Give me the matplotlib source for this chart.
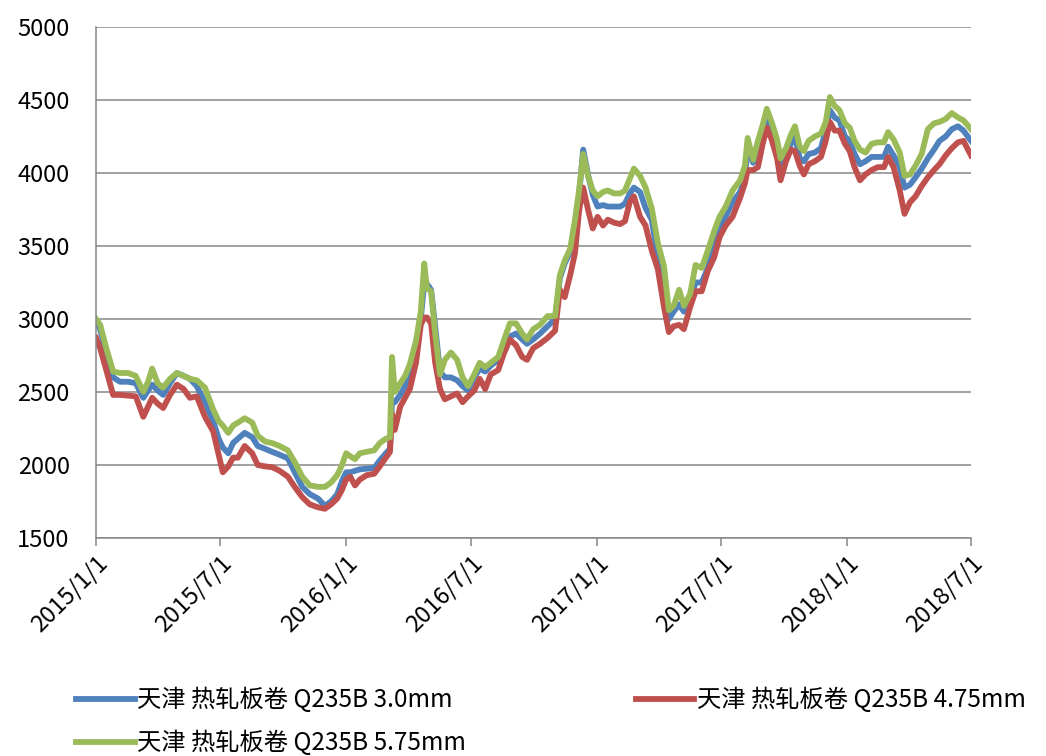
import matplotlib
matplotlib.use("Agg")
import matplotlib.pyplot as plt
import matplotlib.dates as mdates
import pandas as pd

plt.rcParams['font.family'] = ['Noto Sans CJK SC', 'DejaVu Sans']

dates = [
    "2015-01-01", "2015-01-07", "2015-01-16", "2015-01-26", "2015-02-05", "2015-02-17", "2015-02-28",
    "2015-03-11", "2015-03-18", "2015-03-24", "2015-04-01", "2015-04-09", "2015-04-19", "2015-04-29",
    "2015-05-09", "2015-05-18", "2015-05-28", "2015-06-09", "2015-06-21", "2015-06-29", "2015-07-05",
    "2015-07-13", "2015-07-20", "2015-07-27", "2015-08-06", "2015-08-17", "2015-08-25", "2015-09-05",
    "2015-09-15", "2015-09-26", "2015-10-08", "2015-10-18", "2015-10-29", "2015-11-09", "2015-11-21",
    "2015-12-01", "2015-12-10", "2015-12-19", "2015-12-26", "2016-01-01", "2016-01-07", "2016-01-14",
    "2016-01-21", "2016-01-31", "2016-02-11", "2016-02-19", "2016-02-28", "2016-03-05", "2016-03-08",
    "2016-03-12", "2016-03-20", "2016-03-27", "2016-04-03", "2016-04-12", "2016-04-19", "2016-04-24",
    "2016-04-28", "2016-05-04", "2016-05-10", "2016-05-17", "2016-05-24", "2016-06-02", "2016-06-11",
    "2016-06-19", "2016-06-27", "2016-07-06", "2016-07-14", "2016-07-22", "2016-07-30", "2016-08-10",
    "2016-08-18", "2016-08-27", "2016-09-05", "2016-09-14", "2016-09-21", "2016-09-30", "2016-10-10",
    "2016-10-21", "2016-11-01", "2016-11-08", "2016-11-15", "2016-11-23", "2016-11-30", "2016-12-06",
    "2016-12-12", "2016-12-19", "2016-12-26", "2017-01-02", "2017-01-10", "2017-01-17", "2017-01-26",
    "2017-02-04", "2017-02-11", "2017-02-18", "2017-02-24", "2017-03-05", "2017-03-13", "2017-03-22",
    "2017-03-31", "2017-04-09", "2017-04-16", "2017-04-23", "2017-05-01", "2017-05-08", "2017-05-17",
    "2017-05-25", "2017-06-03", "2017-06-12", "2017-06-21", "2017-06-29", "2017-07-08", "2017-07-18",
    "2017-07-29", "2017-08-05", "2017-08-09", "2017-08-17", "2017-08-24", "2017-08-31", "2017-09-06",
    "2017-09-13", "2017-09-21", "2017-09-26", "2017-10-04", "2017-10-11", "2017-10-17", "2017-10-24",
    "2017-10-30", "2017-11-06", "2017-11-15", "2017-11-24", "2017-12-01", "2017-12-07", "2017-12-14",
    "2017-12-21", "2017-12-29", "2018-01-05", "2018-01-12", "2018-01-20", "2018-01-28", "2018-02-06",
    "2018-02-15", "2018-02-24", "2018-03-02", "2018-03-10", "2018-03-19", "2018-03-26", "2018-04-03",
    "2018-04-11", "2018-04-20", "2018-04-29", "2018-05-08", "2018-05-16", "2018-05-25", "2018-06-03",
    "2018-06-12", "2018-06-20", "2018-07-01",
]

# 天津 热轧板卷 Q235B 3.0mm
price_30 = [
    2990, 2930, 2760, 2600, 2570, 2570, 2560, 2460, 2510, 2550, 2510, 2480, 2560, 2630,
    2610, 2590, 2540, 2430, 2300, 2180, 2120, 2080, 2150, 2180, 2220, 2190, 2130, 2110,
    2090, 2070, 2045, 1950, 1850, 1800, 1770, 1720, 1750, 1800, 1890, 1950, 1950, 1960,
    1970, 1975, 1980, 2030, 2080, 2110, 2440, 2430, 2480, 2540, 2620, 2790, 3000, 3250,
    3240, 3200, 2950, 2640, 2600, 2600, 2580, 2540, 2510, 2600, 2660, 2640, 2680, 2720,
    2820, 2880, 2900, 2860, 2830, 2860, 2900, 2950, 3000, 3280, 3380, 3460, 3650, 3850,
    4160, 3990, 3850, 3770, 3780, 3770, 3770, 3770, 3790, 3860, 3900, 3870, 3760, 3680,
    3420, 3180, 3000, 3050, 3100, 3050, 3120, 3250, 3250, 3350, 3510, 3610, 3700, 3800,
    3870, 3960, 4180, 4070, 4160, 4270, 4380, 4300, 4180, 4060, 4120, 4200, 4250, 4100,
    4080, 4130, 4140, 4170, 4290, 4430, 4380, 4360, 4250, 4220, 4130, 4060, 4080, 4110,
    4110, 4110, 4180, 4120, 4040, 3900, 3920, 3970, 4030, 4100, 4160, 4220, 4250, 4300,
    4320, 4290, 4220,
]

# 天津 热轧板卷 Q235B 4.75mm
price_475 = [
    2870, 2800, 2650, 2480, 2480, 2475, 2470, 2330, 2400, 2460, 2420, 2390, 2480, 2550,
    2520, 2460, 2470, 2330, 2230, 2070, 1950, 1990, 2050, 2050, 2130, 2080, 2000, 1990,
    1985, 1960, 1920, 1850, 1780, 1730, 1710, 1700, 1730, 1770, 1830, 1900, 1920, 1860,
    1900, 1930, 1940, 1990, 2050, 2090, 2350, 2240, 2400, 2460, 2520, 2700, 2960, 3010,
    3010, 2970, 2700, 2520, 2450, 2470, 2490, 2430, 2470, 2510, 2590, 2520, 2620, 2650,
    2760, 2860, 2820, 2740, 2720, 2800, 2830, 2870, 2920, 3200, 3150, 3300, 3450, 3740,
    3900, 3750, 3620, 3700, 3640, 3680, 3660, 3650, 3670, 3800, 3840, 3700, 3640, 3470,
    3340, 3080, 2910, 2950, 2960, 2930, 3080, 3190, 3190, 3330, 3420, 3560, 3640, 3700,
    3830, 3930, 4020, 4020, 4040, 4200, 4310, 4230, 4100, 3950, 4080, 4160, 4150, 4050,
    3990, 4060, 4080, 4110, 4220, 4350, 4290, 4290, 4200, 4150, 4040, 3950, 3990, 4020,
    4040, 4040, 4110, 4040, 3880, 3720, 3800, 3840, 3910, 3970, 4020, 4060, 4120, 4170,
    4210, 4220, 4120,
]

# 天津 热轧板卷 Q235B 5.75mm
price_575 = [
    3000, 2960, 2800, 2640, 2630, 2630, 2610, 2500, 2570, 2660, 2560, 2530, 2590, 2630,
    2610, 2590, 2580, 2530, 2380, 2300, 2270, 2220, 2270, 2290, 2320, 2290, 2200, 2160,
    2150, 2130, 2100, 2020, 1920, 1860, 1850, 1850, 1880, 1930, 2000, 2080, 2060, 2040,
    2080, 2090, 2100, 2150, 2180, 2190, 2740, 2500, 2560, 2610, 2690, 2850, 3050, 3380,
    3210, 3190, 2900, 2620, 2720, 2770, 2720, 2600, 2540, 2620, 2700, 2670, 2700, 2740,
    2850, 2970, 2970, 2900, 2860, 2930, 2960, 3020, 3020, 3300, 3400, 3480, 3680, 3880,
    4130, 3980, 3880, 3840, 3870, 3880, 3860, 3860, 3880, 3960, 4030, 3980, 3900, 3760,
    3520, 3360, 3060, 3090, 3200, 3090, 3170, 3370, 3350, 3470, 3600, 3700, 3770, 3880,
    3950, 4050, 4240, 4090, 4220, 4330, 4440, 4350, 4230, 4100, 4170, 4260, 4320, 4180,
    4150, 4220, 4250, 4270, 4350, 4520, 4460, 4430, 4340, 4310, 4220, 4160, 4140, 4200,
    4210, 4210, 4280, 4230, 4140, 3980, 3990, 4050, 4130, 4300, 4340, 4350, 4370, 4410,
    4380, 4360, 4300,
]

labels = [
    "天津 热轧板卷 Q235B 3.0mm",
    "天津 热轧板卷 Q235B 4.75mm",
    "天津 热轧板卷 Q235B 5.75mm",
]
colors = ["#4F81BD", "#C0504D", "#9BBB59"]
x_ticks = ["2015-01-01", "2015-07-01", "2016-01-01", "2016-07-01",
           "2017-01-01", "2017-07-01", "2018-01-01", "2018-07-01"]

x = pd.to_datetime(dates)

fig = plt.figure(figsize=(10.46, 7.56), dpi=100)
ax = fig.add_axes([0.0918, 0.2884, 0.8365, 0.6759])

lines = []
for ys, lab, c in zip([price_30, price_475, price_575], labels, colors):
    ln, = ax.plot(x, ys, color=c, linewidth=4.2, label=lab, solid_joinstyle="round")
    lines.append(ln)

ax.set_ylim(1500, 5000)
ax.set_yticks(range(1500, 5001, 500))
ax.set_xlim(pd.Timestamp(x_ticks[0]), pd.Timestamp(x_ticks[-1]))
ax.set_xticks(pd.to_datetime(x_ticks))
ax.xaxis.set_major_formatter(mdates.DateFormatter("%Y/%-m/%-d"))

ax.grid(axis="y", color="#868686", linewidth=1.1)
ax.set_axisbelow(True)
for s in ["top", "right"]:
    ax.spines[s].set_visible(False)
for s in ["left", "bottom"]:
    ax.spines[s].set_color("#868686")
    ax.spines[s].set_linewidth(1.1)

ax.tick_params(axis="y", length=0, labelsize=17, pad=19, colors="#000000")
ax.tick_params(axis="x", length=6, width=1.1, color="#868686", labelsize=17, pad=4)
for t in ax.get_xticklabels():
    t.set_rotation(45)
    t.set_ha("right")
    t.set_rotation_mode("anchor")

# row-wise order: 3.0 | 4.75 on first row, 5.75 below
order = [0, 2, 1]
fig.legend([lines[i] for i in order], [labels[i] for i in order],
           loc="upper left", bbox_to_anchor=(0.052, 0.12), ncol=2, frameon=False,
           fontsize=17.5, handlelength=2.4, handletextpad=0.1, columnspacing=7.0,
           labelspacing=0.7)

fig.savefig("out.png", dpi=100)
